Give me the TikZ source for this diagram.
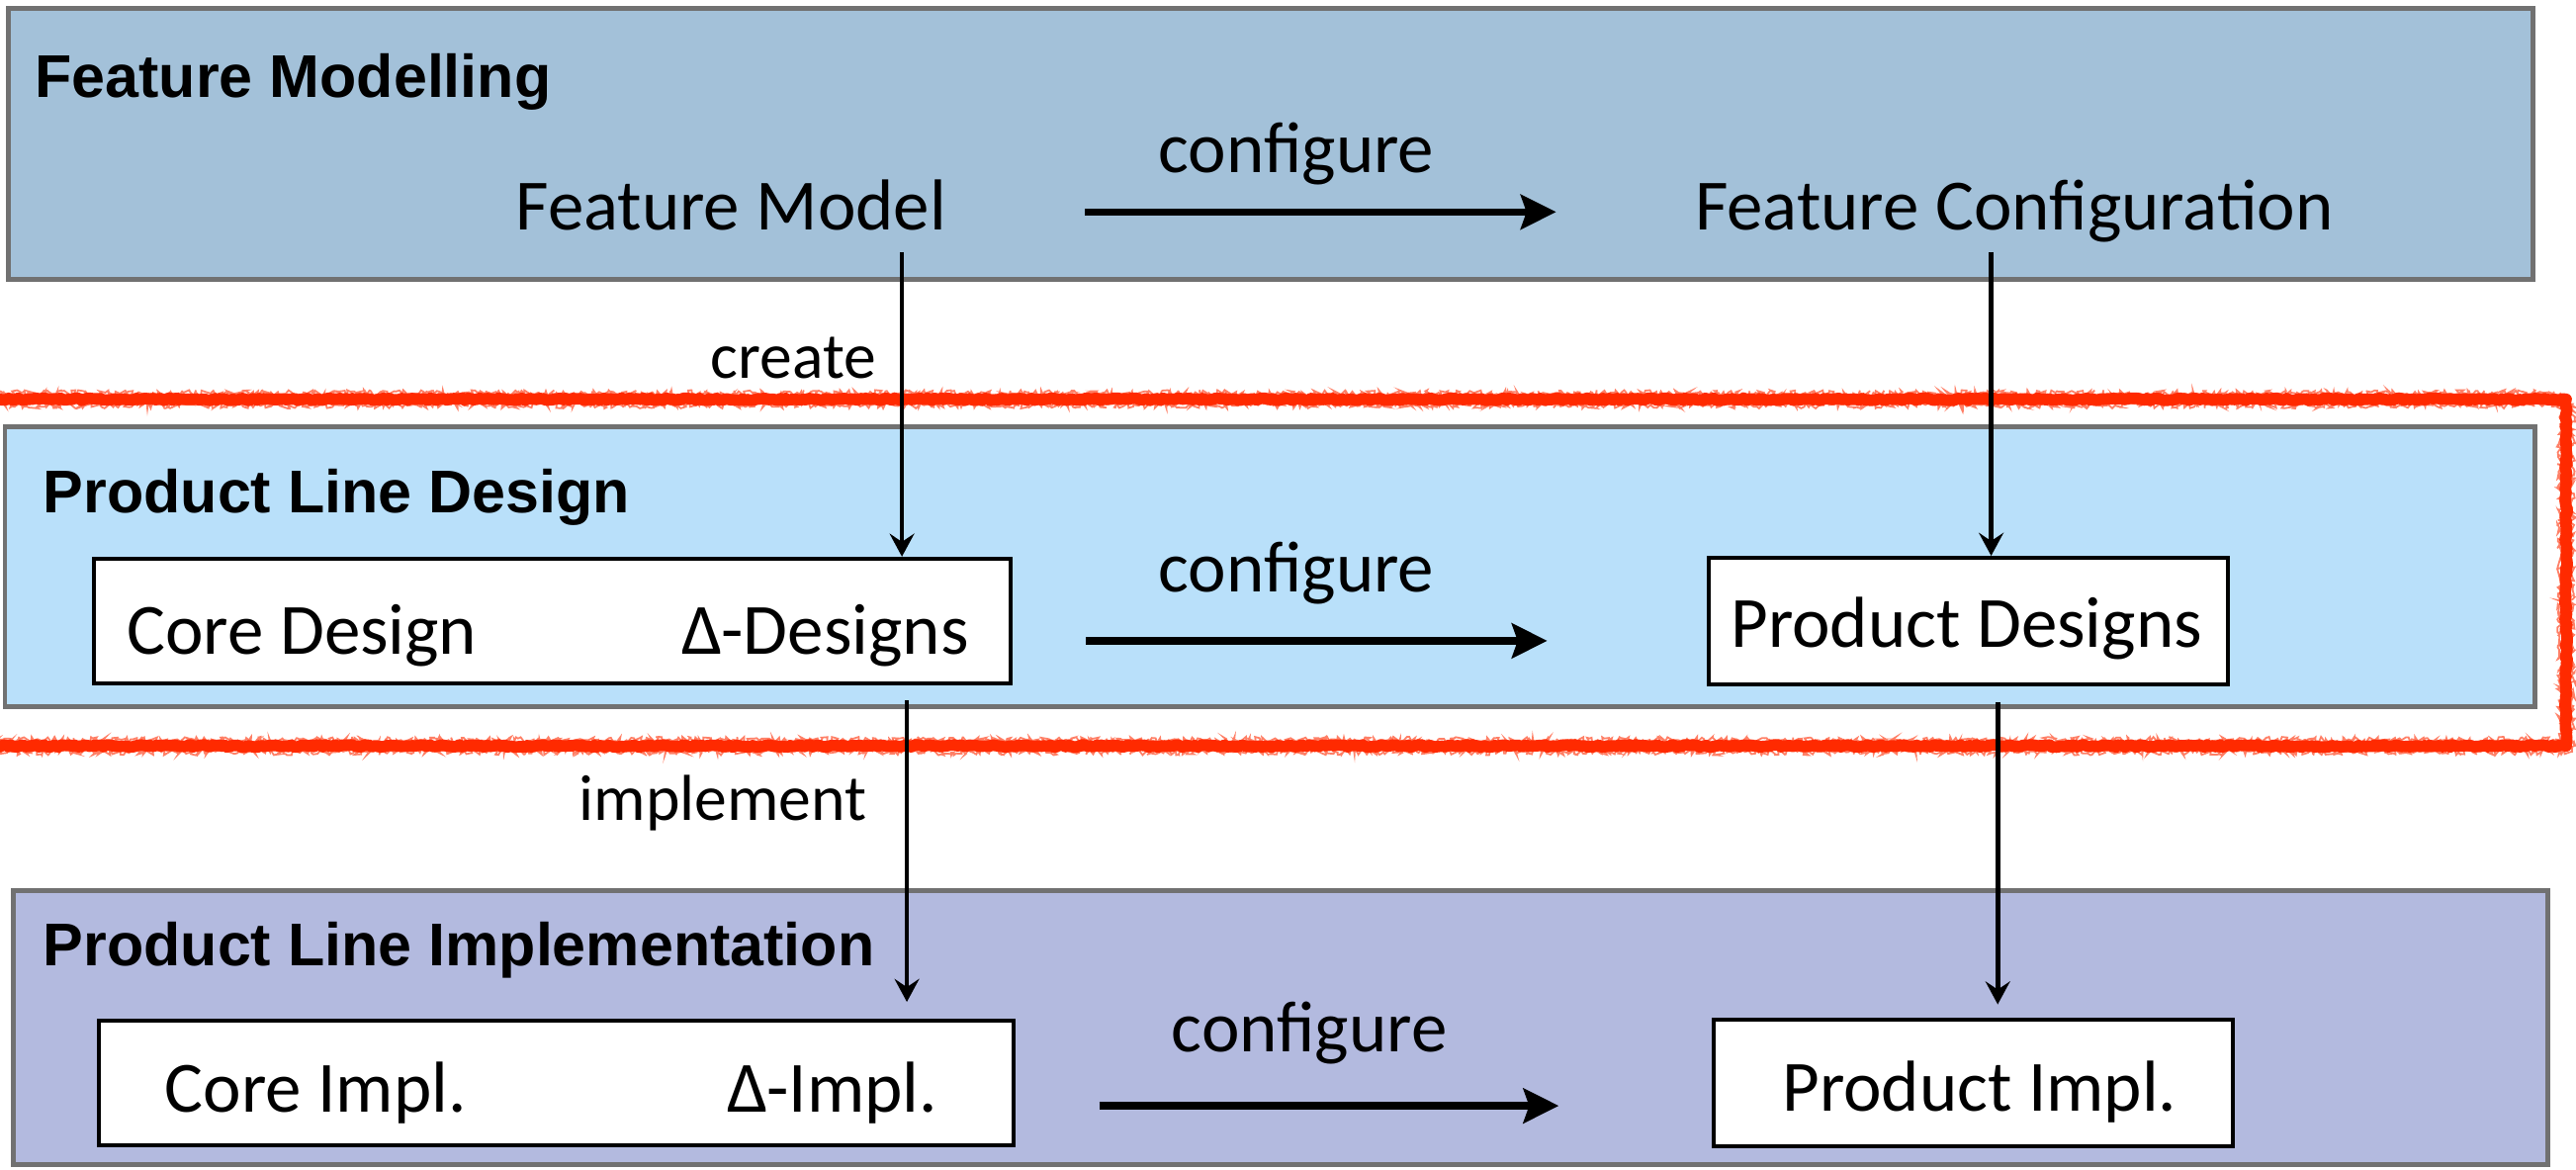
\documentclass[tikz,border=0pt]{standalone}
\usepackage{fontspec}
\setmainfont{Carlito}
\newfontfamily\headfont{Liberation Sans}
\usetikzlibrary{arrows.meta, decorations.pathmorphing}
\definecolor{fmfill}{HTML}{A3C1D9}
\definecolor{pldfill}{HTML}{B9E0FA}
\definecolor{plifill}{HTML}{B3BADF}
\definecolor{bandline}{HTML}{717171}
\definecolor{markred}{HTML}{FF2A00}
\tikzset{
  band/.style={draw=bandline, line width=1.7pt},
  bandtitle/.style={anchor=base west, inner sep=0pt,
                    font=\headfont\bfseries\fontsize{20.9}{25}\selectfont},
  artefact/.style={font=\fontsize{25}{30}\selectfont, inner sep=2.4pt,
                   text height=17.5pt, text depth=5pt},
  artbox/.style={rectangle, draw=black, fill=white, line width=1.4pt},
  inboxtext/.style={font=\fontsize{25}{30}\selectfont, inner sep=0pt},
  flowlabel/.style={anchor=base, inner sep=0pt, font=\fontsize{22.5}{27}\selectfont},
  cfglabel/.style={anchor=base, inner sep=0pt, font=\fontsize{25}{30}\selectfont},
  flow/.style={line width=1.6pt, -{Stealth[length=0.28cm, width=0.3cm, inset=0.1cm]}},
  cfgarrow/.style={line width=2.5pt, -{Stealth[length=0.43cm, width=0.42cm, inset=0.07cm]}},
  roughmark/.style={draw=markred, line width=4pt, line join=round, decorate,
                    decoration={random steps, segment length=1pt, amplitude=0.4pt}},
  roughfray/.style={draw=markred, line width=0.6pt, opacity=0.6, decorate,
                    decoration={random steps, segment length=0.7pt, amplitude=1.2pt}}
}

\begin{document}
\begin{tikzpicture}[x=0.02cm, y=-0.02cm]
  \useasboundingbox (0,0) rectangle (1568,711.5);
  \pgfmathsetseed{42}
  % the three layers
  \draw[band, fill=fmfill]  (5,5)    rectangle (1542,170);
  \draw[band, fill=pldfill] (3,260)  rectangle (1543,430);
  \draw[band, fill=plifill] (8,542)  rectangle (1551,709);
  \node[bandtitle] (fmtitle)  at (21,59)  {Feature Modelling};
  \node[bandtitle] (pldtitle) at (26,312) {Product Line Design};
  \node[bandtitle] (plititle) at (26,588) {Product Line Implementation};
  % the hand-drawn mark round the design layer
  \draw[roughmark] (-30,243) rectangle (1562,454);
  \draw[roughfray] (-30,239.5) rectangle (1558.5,450.5);
  \draw[roughfray] (-30,246.5) rectangle (1565.5,457.5);
  % artefacts
  \node[artefact, anchor=base] (fm) at (445,140) {Feature Model};
  \node[artefact, anchor=base] (fc) at (1226,140) {Feature Configuration};
  \node[artbox, minimum width=11.16cm, minimum height=1.52cm] (coredes) at (336,378) {};
  \node[inboxtext, anchor=base west] (coredesign) at (77,398) {Core Design};
  \node[inboxtext, anchor=base east] (deltadesign) at (590,398) {Δ-Designs};
  \node[artbox, minimum width=6.32cm, minimum height=1.54cm] (pdes) at (1198,378) {};
  \node[inboxtext, anchor=base] (proddesign) at (1197,394) {Product Designs};
  \node[artbox, minimum width=11.14cm, minimum height=1.52cm] (coreimp) at (338.5,659) {};
  \node[inboxtext, anchor=base west] (coreimpl) at (100,677) {Core Impl.};
  \node[inboxtext, anchor=base east] (deltaimpl) at (571,677) {Δ-Impl.};
  \node[artbox, minimum width=6.32cm, minimum height=1.54cm] (pimp) at (1201,659) {};
  \node[inboxtext, anchor=base] (prodimpl) at (1205,676) {Product Impl.};
  % columns of the vertical arrows
  \coordinate (colcreate) at (549,0);
  \coordinate (colconf)   at (1212,0);
  \coordinate (colimpl)   at (552,0);
  \coordinate (colprod)   at (1216,0);
  % configure steps
  \draw[cfgarrow, shorten <=1.6cm, shorten >=1.6cm] (fm.east) -- (fc.west);
  \node[cfglabel] (cfgfm) at (789,105) {configure};
  \draw[cfgarrow, shorten <=0.9cm, shorten >=1.94cm]
    ([yshift=-0.24cm]coredes.east) -- ([yshift=-0.24cm]pdes.west);
  \node[cfglabel] (cfgpld) at (789,360) {configure};
  \draw[cfgarrow, shorten <=1.02cm, shorten >=1.86cm]
    ([yshift=-0.28cm]coreimp.east) -- ([yshift=-0.28cm]pimp.west);
  \node[cfglabel] (cfgpli) at (797,640) {configure};
  % between the layers
  \draw[flow] (fm.south -| colcreate) -- (coredes.north -| colcreate);
  \node[flowlabel] (create) at (483,230) {create};
  \draw[flow] (fc.south -| colconf) -- (pdes.north -| colconf);
  \draw[flow, shorten <=0.18cm, shorten >=0.2cm]
    (coredes.south -| colimpl) -- (coreimp.north -| colimpl);
  \node[flowlabel] (implement) at (440,499) {implement};
  \draw[flow, shorten <=0.19cm, shorten >=0.16cm]
    (pdes.south -| colprod) -- (pimp.north -| colprod);
\end{tikzpicture}
\end{document}
